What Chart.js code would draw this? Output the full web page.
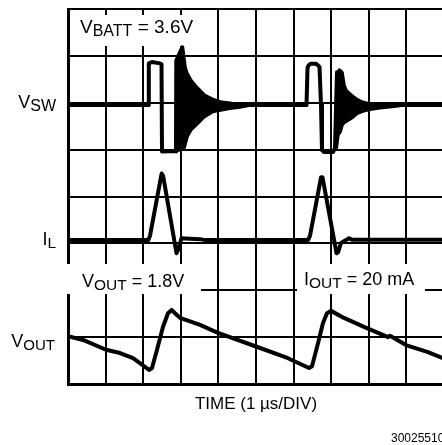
<!DOCTYPE html>
<html><head><meta charset="utf-8">
<script src="https://cdn.jsdelivr.net/npm/chart.js@4.4.0/dist/chart.umd.min.js"></script>
<style>html,body{margin:0;padding:0;background:#fff;overflow:hidden;width:442px;height:445px}canvas{display:block}</style>
</head><body>
<canvas id="c" width="446" height="445"></canvas>
<script>
// Time axis: 10 divisions (1 us/DIV); vertical axis: 8 screen divisions
const xDivs = 10;
const yDivs = 8;

// V_SW switch-node trace (time in div, level in div)
const vswT = [0, 2.135, 2.149, 2.234, 2.447, 2.487, 2.50, 2.846, 2.872, 2.88, 3.04, 3.10, 3.30, 6.343, 6.37, 6.40, 6.45, 6.60, 6.66, 6.689, 6.729, 6.755, 6.809, 7.048, 7.101, 7.154, 7.26, 10];
const vswV = [5.95, 5.95, 6.84, 6.87, 6.84, 6.82, 4.96, 4.97, 4.96, 6.90, 7.18, 6.80, 5.95, 5.95, 6.74, 6.80, 6.83, 6.83, 6.79, 6.76, 5.95, 4.99, 4.95, 4.95, 5.03, 6.65, 5.95, 5.95];

// V_SW ringing envelopes after each pulse
const ring1T  = [2.872, 2.952, 3.005, 3.045, 3.112, 3.191, 3.298, 3.431, 3.644, 3.856, 4.096, 4.309, 4.574, 4.787];
const ring1Hi = [6.91, 6.95, 7.12, 7.19, 6.80, 6.63, 6.48, 6.35, 6.18, 6.09, 6.03, 6.01, 5.98, 5.97];
const ring1Lo = [4.95, 4.97, 4.99, 4.99, 5.03, 5.27, 5.42, 5.52, 5.69, 5.79, 5.83, 5.86, 5.89, 5.92];
const ring2T  = [7.154, 7.207, 7.261, 7.314, 7.367, 7.42, 7.5, 7.606, 7.713, 7.846, 8.032, 8.298, 8.617, 8.83];
const ring2Hi = [6.65, 6.72, 6.70, 6.65, 6.38, 6.27, 6.21, 6.14, 6.08, 6.03, 5.99, 5.97, 5.96, 5.95];
const ring2Lo = [4.99, 5.31, 5.37, 5.52, 5.57, 5.59, 5.63, 5.69, 5.76, 5.80, 5.84, 5.87, 5.90, 5.92];

// I_L inductor current trace
const ilT = [0, 2.136, 2.18, 2.49, 2.53, 2.886, 2.926, 3.019, 3.245, 3.511, 3.644, 6.383, 6.436, 6.729, 6.769, 7.141, 7.181, 7.261, 7.394, 7.473, 7.553, 10];
const ilV = [3.07, 3.07, 3.16, 4.49, 4.44, 2.79, 2.86, 3.11, 3.10, 3.09, 3.07, 3.07, 3.16, 4.41, 4.41, 2.79, 2.81, 3.01, 3.07, 3.11, 3.08, 3.08];

// V_OUT ripple trace
const voutT = [0, 0.399, 1.011, 1.383, 1.729, 2.093, 2.154, 2.234, 2.367, 2.527, 2.66, 2.758, 2.846, 2.979, 3.511, 3.989, 5.0, 5.851, 6.41, 6.489, 6.649, 6.782, 6.888, 6.995, 7.34, 7.872, 8.511, 8.564, 8.989, 9.574, 10];
const voutV = [1.02, 0.94, 0.73, 0.66, 0.55, 0.34, 0.30, 0.34, 0.73, 1.22, 1.51, 1.58, 1.51, 1.41, 1.26, 1.09, 0.80, 0.55, 0.34, 0.38, 0.87, 1.30, 1.51, 1.56, 1.41, 1.22, 1.00, 1.03, 0.83, 0.68, 0.54];

// Text
const traceLabels = [['V','SW',''], ['I','L',''], ['V','OUT','']];
const noteBatt = ['V','BATT',' = 3.6V'];
const noteVout = ['V','OUT',' = 1.8V'];
const noteIout = ['I','OUT',' = 20 mA'];
const xTitle = 'TIME (1 µs/DIV)';
const figId = '30025510';

const FONT = '"Liberation Sans", Arial, Helvetica, sans-serif';
function pts(t, v){ return t.map((x,i)=>({x:x, y:v[i]})); }
function ds(t, v, extra){
  return Object.assign({data: pts(t,v), borderColor:'#000', backgroundColor:'#000', borderWidth:4,
    pointRadius:0, tension:0, fill:false, borderJoinStyle:'round', borderCapStyle:'round'}, extra||{});
}
function subText(ctx, x, y, parts, big, small, drop, align){
  ctx.textBaseline = 'alphabetic';
  ctx.font = big + 'px ' + FONT; const w1 = ctx.measureText(parts[0]).width;
  ctx.font = small + 'px ' + FONT; const w2 = ctx.measureText(parts[1]).width;
  ctx.font = big + 'px ' + FONT; const w3 = ctx.measureText(parts[2]).width;
  let x0 = align === 'right' ? x - (w1+w2+w3) : x;
  ctx.textAlign = 'left';
  ctx.fillStyle = '#000';
  ctx.font = big + 'px ' + FONT; ctx.fillText(parts[0], x0, y);
  ctx.font = small + 'px ' + FONT; ctx.fillText(parts[1], x0 + w1, y + drop);
  ctx.font = big + 'px ' + FONT; ctx.fillText(parts[2], x0 + w1 + w2, y);
}

const decor = {
  id: 'decor',
  beforeDatasetsDraw(chart){
    const ctx = chart.ctx; ctx.save(); ctx.fillStyle = '#fff';
    ctx.fillRect(70, 15, 135, 31);
    ctx.fillRect(66, 264, 135, 30);
    ctx.fillRect(297, 264, 128, 30);
    ctx.restore();
  },
  afterDraw(chart){
    const ctx = chart.ctx; ctx.save();
    subText(ctx, 80, 33, noteBatt, 19, 16, 3);
    subText(ctx, 82, 287, noteVout, 18, 15.5, 3);
    subText(ctx, 304, 285, noteIout, 18, 15.5, 3);
    subText(ctx, 56, 108, traceLabels[0], 18, 16, 3, 'right');
    subText(ctx, 56, 245, traceLabels[1], 18, 15.5, 3, 'right');
    subText(ctx, 55, 347, traceLabels[2], 18, 15, 3, 'right');
    const a = chart.chartArea;
    ctx.font = '17px ' + FONT; ctx.textAlign = 'center'; ctx.fillStyle = '#000';
    ctx.fillText(xTitle, (a.left + a.right)/2, 409);
    ctx.font = '12px ' + FONT; ctx.textAlign = 'left';
    ctx.fillText(figId, 391, 442);
    ctx.restore();
  }
};

const axisCommon = {
  type: 'linear',
  ticks: {display:false, stepSize:1},
  grid: {color:'#000', lineWidth:2, drawTicks:false},
  border: {color:'#000', width:3}
};

new Chart(document.getElementById('c'), {
  type: 'line',
  data: { datasets: [
    ds(ring1T, ring1Hi, {fill:'+1', borderWidth:1.5}),
    ds(ring1T, ring1Lo, {borderWidth:1.5}),
    ds(ring2T, ring2Hi, {fill:'+1', borderWidth:1.5}),
    ds(ring2T, ring2Lo, {borderWidth:1.5}),
    ds(vswT, vswV),
    ds(ilT, ilV),
    ds(voutT, voutV)
  ]},
  options: {
    responsive: false, animation: false, events: [],
    layout: { padding: {left:68, top:9, right:2, bottom:61} },
    plugins: { legend:{display:false}, tooltip:{enabled:false} },
    scales: {
      x: Object.assign({}, axisCommon, {min:0, max:xDivs}),
      y: Object.assign({}, axisCommon, {min:0, max:yDivs})
    }
  },
  plugins: [decor]
});
</script></body></html>
